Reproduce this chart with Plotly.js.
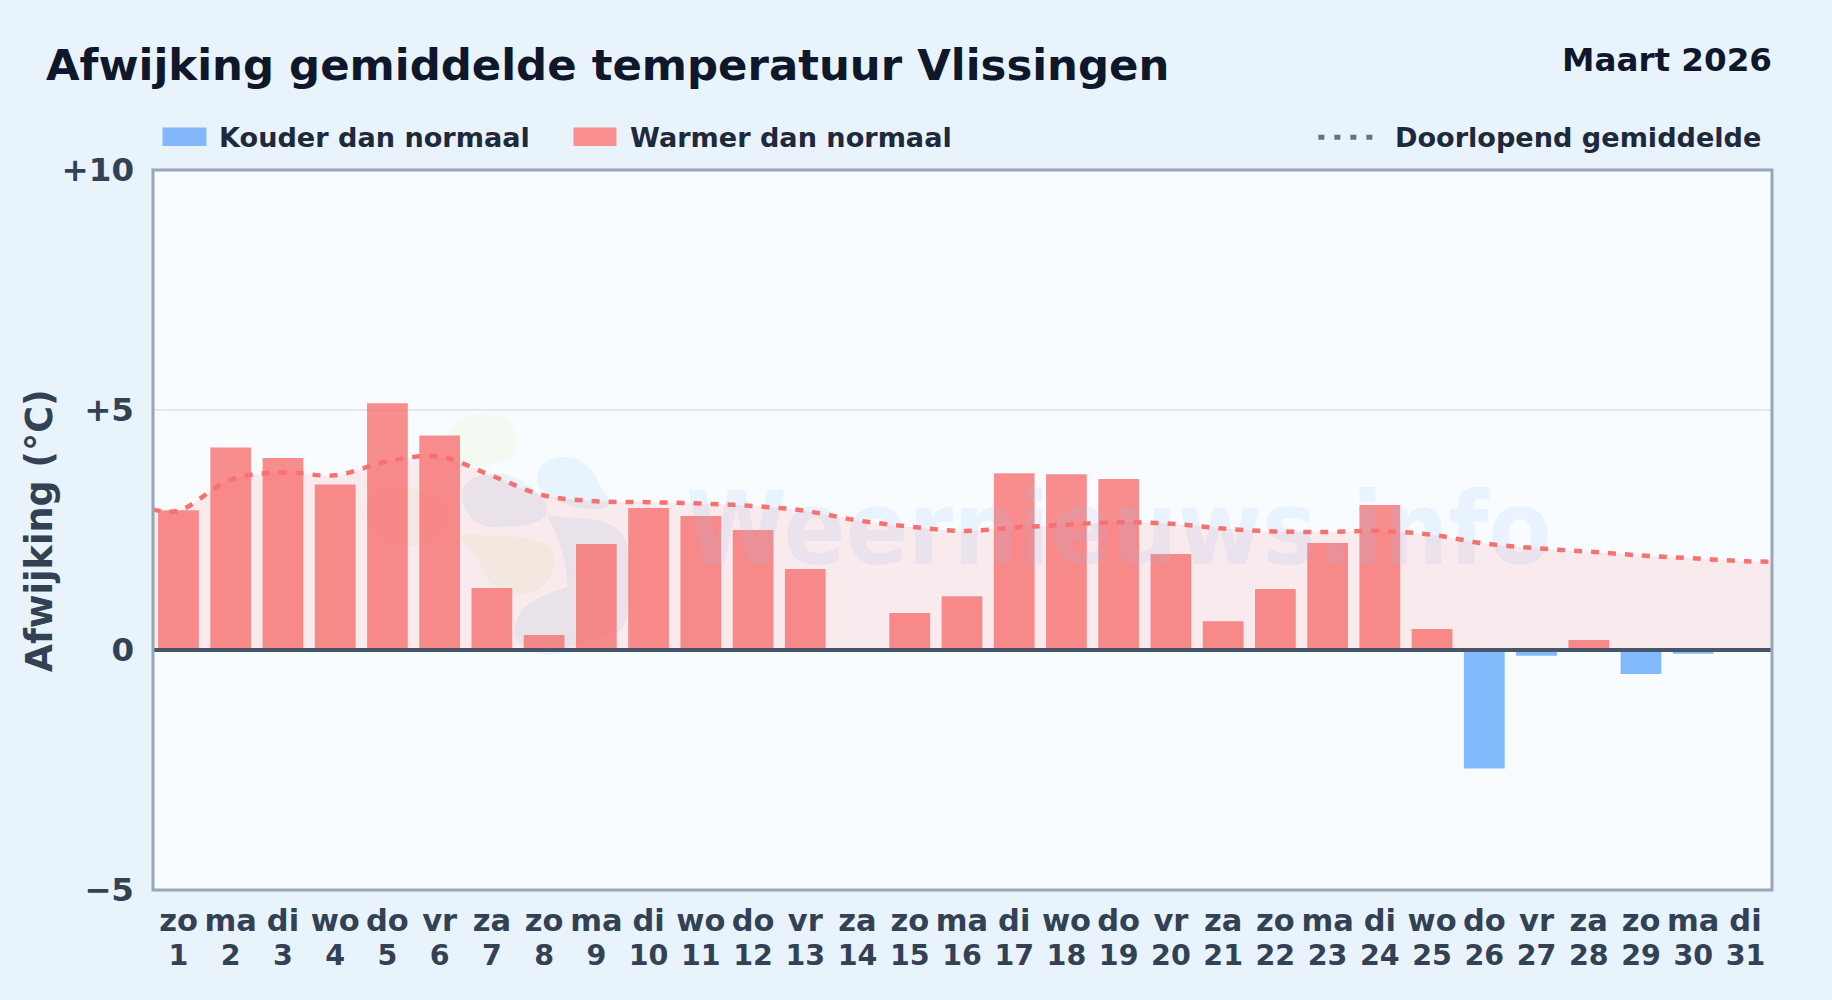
<!DOCTYPE html>
<html><head><meta charset="utf-8">
<script src="https://cdn.plot.ly/plotly-3.0.1.min.js"></script>
<style>html,body{margin:0;padding:0;background:#e9f3fc;overflow:hidden}#c{width:1832px;height:1000px}</style>
</head><body><div id="c"></div>
<script>
const weekdays = ['zo','ma','di','wo','do','vr','za','zo','ma','di','wo','do','vr','za','zo','ma','di','wo','do','vr','za','zo','ma','di','wo','do','vr','za','zo','ma','di'];
const days = [1,2,3,4,5,6,7,8,9,10,11,12,13,14,15,16,17,18,19,20,21,22,23,24,25,26,27,28,29,30,31];
const deviation = [2.91,4.22,4.0,3.45,5.14,4.47,1.29,0.31,2.21,2.96,2.79,2.5,1.69,0,0.77,1.12,3.68,3.66,3.56,2.0,0.6,1.27,2.23,3.02,0.44,-2.47,-0.12,0.21,-0.5,-0.08,0];
const runningX = [0.5,1,2,3,4,5,6,7,8,9,10,11,12,13,14,15,16,17,18,19,20,21,22,23,24,25,26,27,28,29,30,31,31.51];
const runningMean = [2.93,2.9,3.55,3.7,3.64,3.93,4.03,3.63,3.22,3.1,3.08,3.05,3.0,2.9,2.7,2.57,2.48,2.55,2.61,2.66,2.63,2.53,2.47,2.46,2.48,2.4,2.22,2.12,2.05,1.97,1.91,1.85,1.84];
const yTickVals = [-5,0,5,10];
const yTickText = ['\u22125','0','+5','+10'];

const FONT = '"DejaVu Sans", sans-serif';
const W = 1832, H = 1000, L = 152.5, R = 1771.7, T = 169.5, B = 890;
const px = (x) => (x - L) / (R - L);
const py = (y) => (B - y) / (B - T);
// logo blobs, given in zoom-crop pixels of the reference
const zx = v => px(380 + v / 3), zy = v => py(400 + v / 3);
function blob(pts, color) {
  let d = 'M' + zx(pts[0][0]) + ',' + zy(pts[0][1]);
  for (let i = 1; i + 2 < pts.length; i += 3) {
    d += ' C' + [pts[i], pts[i+1], pts[i+2]].map(p => zx(p[0]) + ',' + zy(p[1])).join(' ');
  }
  return {type:'path', xref:'paper', yref:'paper', path:d+' Z', fillcolor:color, line:{width:0}, layer:'below'};
}
const blue = '#e7f3fd', green = '#f3faf1';
const logo = [
  blob([[310,40],[380,40],[415,90],[410,130],[405,180],[340,200],[280,200],[230,190],[205,130],[205,100],[210,70],[260,40],[310,40]], green),
  blob([[550,170],[610,170],[640,215],[655,250],[670,280],[700,300],[680,320],[620,340],[500,310],[470,250],[465,200],[500,170],[550,170]], blue),
  blob([[350,220],[410,220],[470,270],[490,300],[520,350],[480,380],[350,380],[280,385],[245,330],[245,280],[245,240],[300,220],[350,220]], blue),
  blob([[500,345],[600,360],[700,340],[735,420],[760,500],[750,670],[720,690],[640,720],[590,730],[560,745],[520,780],[430,770],[400,700],[410,610],[470,590],[560,560],[560,470],[530,400],[500,345]], blue),
  blob([[260,400],[340,415],[440,395],[510,440],[540,500],[510,560],[440,580],[380,590],[330,560],[310,520],[290,470],[260,430],[240,410]], green),
  blob([[60,260],[120,260],[200,300],[200,350],[200,410],[120,440],[60,440],[0,440],[-40,380],[-40,340],[-40,290],[0,260],[60,260]], green)
];

// legend
const legendTop = 127, legendBottom = 145.5;
const swatch = (x0,x1,c) => ({type:'rect', xref:'paper', yref:'paper', x0:px(x0), x1:px(x1), y0:py(legendBottom), y1:py(legendTop), fillcolor:c, line:{width:0}});
const text = (x, y, t, size, color, anchor) => ({xref:'paper', yref:'paper', x:px(x), y:py(y), text:t, showarrow:false, xanchor:anchor||'left', yanchor:'middle', font:{family:FONT, size, color, weight:700}});

const xTickText = days.map((d,i) => '<span style="font-size:30.5px">' + weekdays[i] + '</span><br><span style="font-size:28.5px">' + d + '</span>');

const traces = [
  {type:'bar', name:'Kouder dan normaal', x:days, y:deviation.map(v => v < 0 ? v : null), width:0.78, marker:{color:'rgba(96,165,250,0.78)', line:{width:0}}, hoverinfo:'skip'},
  {type:'bar', name:'Warmer dan normaal', x:days, y:deviation.map(v => v >= 0 ? v : null), width:0.78, marker:{color:'rgba(248,113,113,0.8)', line:{width:0}}, hoverinfo:'skip'},
  {type:'scatter', mode:'text', x:[19.0], y:[2.32], text:['Weernieuws.info'], textposition:'middle center', textfont:{family:'"DejaVu Sans Condensed", "Noto Sans", sans-serif', size:102, color:'rgba(147,197,253,0.15)', weight:700}, hoverinfo:'skip', showlegend:false},
  {type:'scatter', mode:'lines', name:'Doorlopend gemiddelde', x:runningX, y:runningMean, fill:'tozeroy', fillcolor:'rgba(248,113,113,0.13)', line:{color:'#f87171', width:4.5, dash:'8px,9px', shape:'spline', smoothing:1}, hoverinfo:'skip'}
];

const layout = {
  width:W, height:H,
  margin:{l:L, r:W-R, t:T, b:H-B, pad:0},
  paper_bgcolor:'rgba(0,0,0,0)', plot_bgcolor:'#f8fcff',
  showlegend:false, barmode:'overlay',
  xaxis:{range:[0.512,31.508], tickmode:'array', tickvals:days, ticktext:xTickText, tickangle:0, tickfont:{family:FONT, size:26.5, color:'#334155', weight:700}, showgrid:false, zeroline:false, showline:false, ticks:'', ticklabelstandoff:13, automargin:false},
  yaxis:{range:[-5,10], tickmode:'array', tickvals:yTickVals, ticktext:yTickText, tickfont:{family:FONT, size:32.5, color:'#334155', weight:700}, showgrid:true, gridcolor:'#e2e8f0', gridwidth:2, zeroline:false, showline:false, ticks:'', ticklabelstandoff:18, automargin:false},
  shapes:[
    ...logo,
    {type:'line', xref:'paper', yref:'y', x0:0, x1:1, y0:0, y1:0, line:{color:'#475569', width:4}, layer:'above'},
    {type:'rect', xref:'paper', yref:'paper', x0:0, x1:1, y0:0, y1:1, line:{color:'#98a6ba', width:3}, fillcolor:'rgba(0,0,0,0)', layer:'above'},
    swatch(162,206,'#83b7fc'),
    swatch(573,616,'#f98f91'),
    {type:'line', xref:'paper', yref:'paper', x0:px(1318), x1:px(1373), y0:py(136.7), y1:py(136.7), line:{color:'#64748b', width:5, dash:'6px,10px'}}
  ],
  annotations:[
    text(43.5,64,'Afwijking gemiddelde temperatuur Vlissingen',43.4,'#0f172a'),
    text(1773.5,59.5,'Maart 2026',32.6,'#0f172a','right'),
    text(217,137,'Kouder dan normaal',27.1,'#1e293b'),
    text(628,137,'Warmer dan normaal',27.1,'#1e293b'),
    text(1393,137,'Doorlopend gemiddelde',27.1,'#1e293b'),
    Object.assign(text(38.5,531,'Afwijking (\u00b0C)',36.5,'#334155','center'), {textangle:-90})
  ]
};
Plotly.newPlot('c', traces, layout, {staticPlot:true, displayModeBar:false});
</script></body></html>
